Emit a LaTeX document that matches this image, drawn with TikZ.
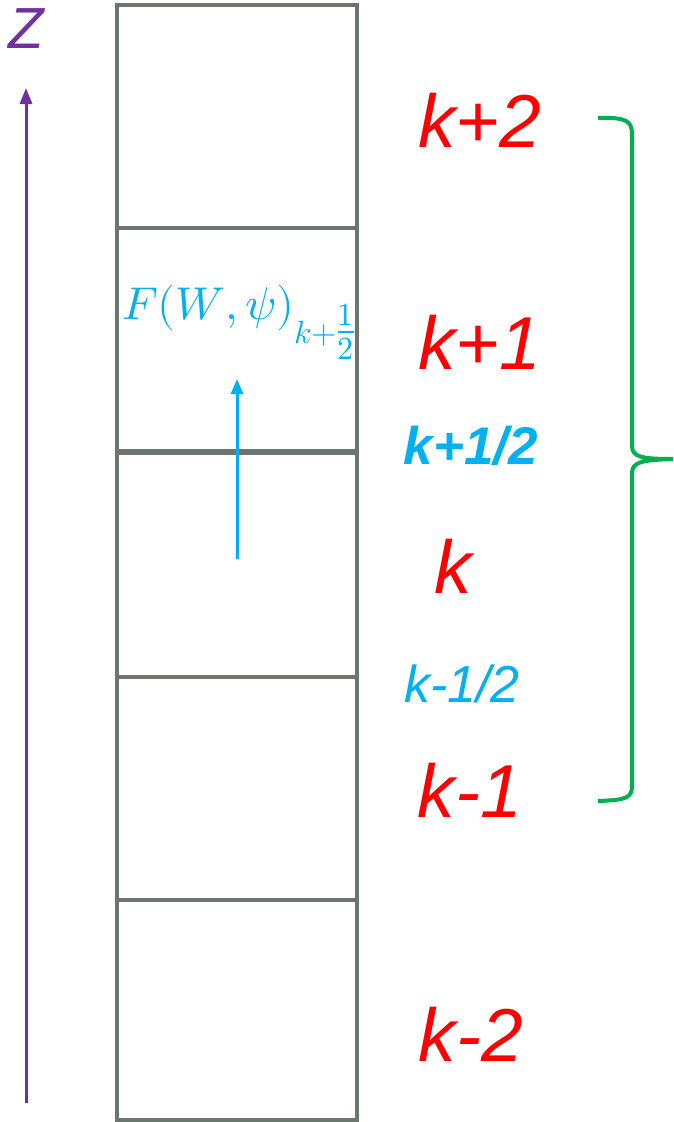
\documentclass[tikz,border=0pt]{standalone}
\usepackage{fontspec}
\usepackage{unicode-math}
\setmainfont{Liberation Sans}
\setmathfont{Latin Modern Math}
\usetikzlibrary{arrows.meta}
\definecolor{cellgray}{HTML}{6B766E}
\definecolor{zpurple}{HTML}{7030A0}
\definecolor{kred}{HTML}{FF0000}
\definecolor{hblue}{HTML}{00B0F0}
\definecolor{bgreen}{HTML}{00B050}
\tikzset{
  cellline/.style={draw=cellgray,line width=4.5pt},
  klabel/.style={text=kred,font=\fontsize{75}{80}\selectfont\itshape,inner sep=0pt},
  hlabel/.style={text=hblue,font=\fontsize{52}{58}\selectfont\itshape,inner sep=0pt},
}
\begin{document}
\begin{tikzpicture}[x=1pt,y=-1pt]
\useasboundingbox (0,0) rectangle (673,1122);
% column
\draw[cellline] (117,5) rectangle (357,1120);
\draw[cellline] (117,228) -- (357,228);
\draw[cellline,line width=6.5pt] (117,452) -- (357,452);
\draw[cellline] (117,677) -- (357,677);
\draw[cellline] (117,900) -- (357,900);
% z axis
\coordinate (zb) at (26,1103);
\coordinate (zt) at (26,88);
\draw[zpurple,line width=3pt,-{Triangle[length=16pt,width=12pt]}] (zb) -- (zt);
\node[text=zpurple,font=\fontsize{58}{64}\selectfont\itshape,inner sep=0pt] (zlab) at (26,29) {Z};
% labels
\node[klabel] (k2) at (480,120) {k+2};
\node[klabel] (k1) at (480,342) {k+1};
\node[hlabel,font=\fontsize{53}{58}\selectfont\bfseries\itshape] (kh) at (471,446) {k+1/2};
\node[klabel] (k0) at (453,566) {k};
\node[hlabel] (kmh) at (462,684) {k-1/2};
\node[klabel] (km1) at (470,790) {k-1};
\node[klabel] (km2) at (471,1034) {k-2};
% flux
\node[text=hblue,inner sep=0pt,anchor=west,font=\fontsize{46}{52}\selectfont] (flux) at (122,322) {$F(W,\psi)_{k+\genfrac{}{}{}{1}{1}{2}}$};
\coordinate (fb) at (237,559);
\coordinate (ft) at (237,379);
\draw[hblue,line width=3pt,-{Triangle[length=15pt,width=12pt]}] (fb) -- (ft);
% brace
\draw[bgreen,line width=4pt] (598,118) .. controls (626,117) and (632,121) .. (632,134)
  -- (632,446) .. controls (632,457) and (642,459) .. (673,459)
  .. controls (642,460) and (632,462) .. (632,473)
  -- (632,786) .. controls (632,798) and (626,800) .. (598,801);
\end{tikzpicture}
\end{document}
